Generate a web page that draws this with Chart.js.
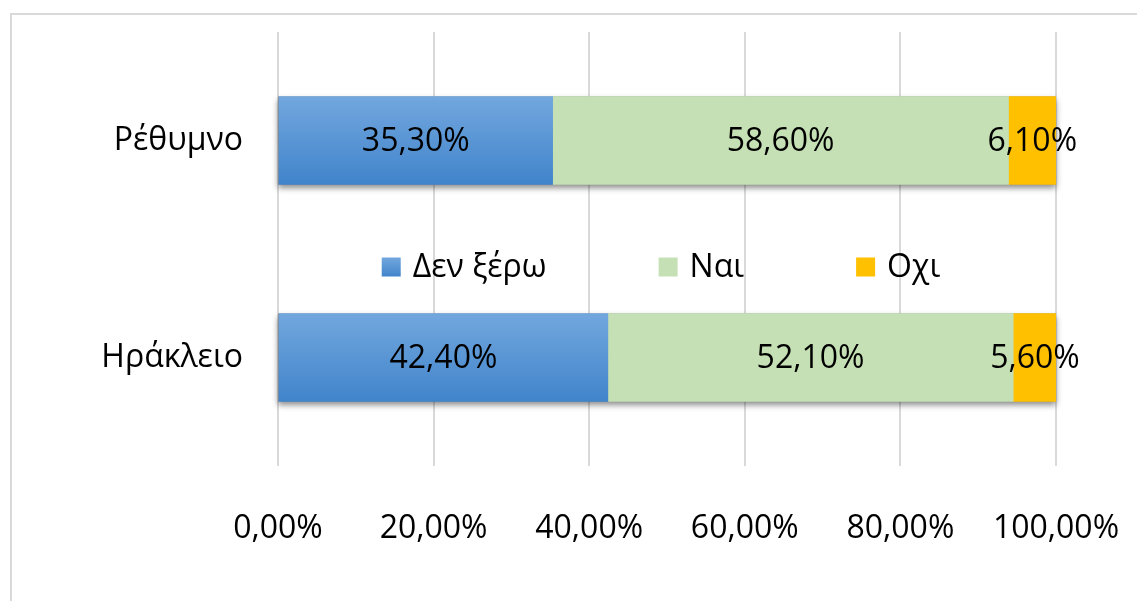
<!DOCTYPE html>
<html>
<head>
<meta charset="utf-8">
<script src="https://cdn.jsdelivr.net/npm/chart.js@4"></script>
<style>
  html, body { margin: 0; padding: 0; background: #fff; overflow: hidden; }
  #wrap { position: relative; width: 1137px; height: 601px; }
  #frame {
    position: absolute; left: 10px; top: 13px; width: 1200px; height: 700px;
    border: 2px solid #d9d9d9; pointer-events: none;
  }
</style>
</head>
<body>
<div id="wrap">
  <canvas id="myChart" width="1137" height="601"></canvas>
  <div id="frame"></div>
</div>
<script>
// Chart data
const categories = ['Ρέθυμνο', 'Ηράκλειο'];
const seriesNames = ['Δεν ξέρω', 'Ναι', 'Οχι'];
const dontKnow = [35.3, 42.4];
const yes = [58.6, 52.1];
const no = [6.1, 5.6];

const FONT = '"Open Sans", "Noto Sans", sans-serif';
const FONT_SIZE = 32;
const BAR_H = 88;

const fmt = v => v.toFixed(2).replace('.', ',') + '%';

function blueGradient(c, y0, y1) {
    const g = c.createLinearGradient(0, y0, 0, y1);
    g.addColorStop(0, '#72a7de');
    g.addColorStop(1, '#4184cb');
    return g;
}

// Shadow under bars, value labels and the legend in the middle
const decorPlugin = {
    id: 'decor',
    beforeDatasetsDraw(chart) {
        const ctx = chart.ctx;
        const x = chart.scales.x;
        const meta = chart.getDatasetMeta(chart.data.datasets.length - 1);
        ctx.save();
        ctx.shadowColor = 'rgba(0,0,0,0.45)';
        ctx.shadowBlur = 6;
        ctx.shadowOffsetY = 3;
        ctx.fillStyle = '#888';
        meta.data.forEach(bar => {
            const left = x.getPixelForValue(0);
            const right = Math.min(bar.x, chart.chartArea.right);
            ctx.fillRect(left, bar.y - bar.height / 2, right - left, bar.height);
        });
        ctx.restore();
    },
    afterDatasetsDraw(chart) {
        const ctx = chart.ctx;
        ctx.save();
        ctx.font = FONT_SIZE + 'px ' + FONT;
        ctx.fillStyle = '#000';
        ctx.textAlign = 'center';
        ctx.textBaseline = 'middle';
        chart.data.datasets.forEach((ds, i) => {
            chart.getDatasetMeta(i).data.forEach((bar, j) => {
                const p = bar.getCenterPoint();
                ctx.fillText(fmt(ds.data[j]), p.x, p.y + 1);
            });
        });

        // legend
        const y = chart.scales.y;
        const ly = (y.getPixelForValue(0) + y.getPixelForValue(1)) / 2 + 18;
        const box = 19, gapText = 12, gapItem = 112;
        const widths = seriesNames.map(n => box + gapText + ctx.measureText(n).width);
        const total = widths.reduce((a, b) => a + b, 0) + gapItem * (widths.length - 1);
        let lx = (chart.chartArea.left + chart.chartArea.right) / 2 - total / 2 - 6;
        ctx.textAlign = 'left';
        seriesNames.forEach((n, i) => {
            const ds = chart.data.datasets[i];
            ctx.fillStyle = i === 0 ? blueGradient(ctx, ly - box / 2, ly + box / 2) : ds.backgroundColor;
            ctx.fillRect(lx, ly - box / 2, box, box);
            ctx.fillStyle = '#000';
            ctx.fillText(n, lx + box + gapText, ly + 1);
            lx += widths[i] + gapItem;
        });
        ctx.restore();
    }
};

const chartCtx = document.getElementById('myChart').getContext('2d');
const myChart = new Chart(chartCtx, {
    type: 'bar',
    data: {
        labels: categories,
        datasets: [
            {
                label: seriesNames[0],
                data: dontKnow,
                backgroundColor: function(context) {
                    const chart = context.chart;
                    if (!chart.chartArea) return '#5a95d5';
                    const py = chart.scales.y.getPixelForValue(context.dataIndex);
                    return blueGradient(chart.ctx, py - BAR_H / 2, py + BAR_H / 2);
                }
            },
            { label: seriesNames[1], data: yes, backgroundColor: '#c5e0b4' },
            { label: seriesNames[2], data: no, backgroundColor: '#ffc000' }
        ]
    },
    options: {
        indexAxis: 'y',
        responsive: false,
        animation: false,
        barThickness: BAR_H,
        layout: { padding: { left: 0, right: 81, top: 32, bottom: 0 } },
        scales: {
            x: {
                stacked: true,
                min: 0,
                max: 100,
                grid: { color: '#d9d9d9', lineWidth: 2, drawTicks: false },
                border: { display: false },
                ticks: {
                    stepSize: 20,
                    padding: 44,
                    color: '#000',
                    font: { family: FONT, size: FONT_SIZE },
                    callback: v => fmt(v)
                },
                afterFit: scale => {
                    scale.height = 135;
                    scale.paddingLeft = 0;
                    scale.paddingRight = 0;
                }
            },
            y: {
                stacked: true,
                grid: { display: false, drawTicks: false },
                border: { display: false },
                ticks: {
                    padding: 35,
                    color: '#000',
                    font: { family: FONT, size: FONT_SIZE }
                },
                afterFit: scale => {
                    scale.width = 278;
                    scale.paddingTop = 0;
                    scale.paddingBottom = 0;
                }
            }
        },
        plugins: {
            legend: { display: false },
            tooltip: { enabled: false }
        }
    },
    plugins: [decorPlugin]
});
</script>
</body>
</html>
